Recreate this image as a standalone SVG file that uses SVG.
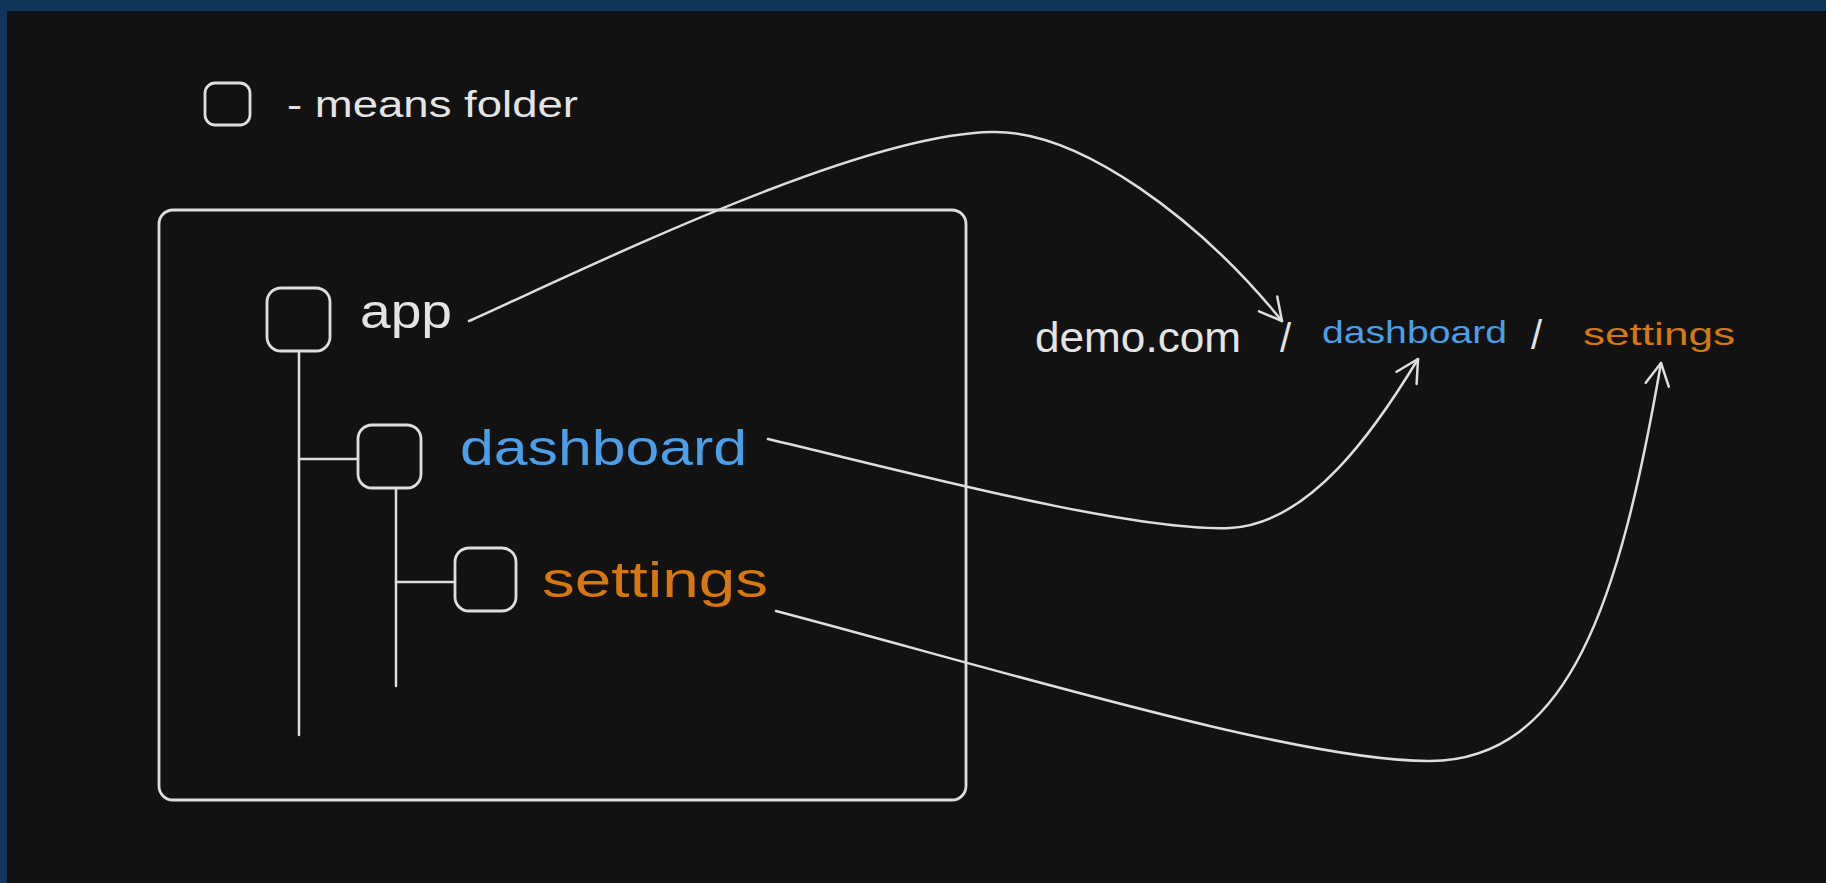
<svg xmlns="http://www.w3.org/2000/svg" width="1826" height="883" viewBox="0 0 1826 883">
<style>
.ln{fill:none;stroke:#dedede;stroke-width:2.5;stroke-linecap:round;stroke-linejoin:round}
.fold{fill:none;stroke:#dedede;stroke-width:2.8}
.t{font-family:"Liberation Sans",Arial,sans-serif;fill:#e4e4e4}
.blue{fill:#4a9fe6}
.orange{fill:#d6780e}
</style>
<defs>
<marker id="ah" markerUnits="userSpaceOnUse" markerWidth="40" markerHeight="40" refX="0" refY="0" viewBox="-30 -20 40 40" orient="auto" overflow="visible">
<path d="M -22 -11.7 L 0 0 L -22 11.7" fill="none" stroke="#dedede" stroke-width="2.5" stroke-linecap="round" stroke-linejoin="round"/>
</marker>
</defs>
<rect x="0" y="0" width="1826" height="883" fill="#11365a"/>
<rect x="7" y="11" width="1819" height="872" fill="#121212"/>

<g id="legend">
<rect class="fold" x="205" y="83" width="45" height="42" rx="10"/>
<text class="t" x="287" y="117" font-size="36" textLength="291" lengthAdjust="spacingAndGlyphs">- means folder</text>
</g>

<g id="container">
<rect class="fold" x="159" y="210" width="807" height="590" rx="14"/>
</g>

<g id="tree-lines">
<line class="ln" x1="299" y1="352" x2="299" y2="735"/>
<line class="ln" x1="299" y1="459" x2="358" y2="459"/>
<line class="ln" x1="396" y1="489" x2="396" y2="686"/>
<line class="ln" x1="396" y1="582" x2="455" y2="582"/>
</g>

<g id="folder-app">
<rect class="fold" x="267" y="288" width="63" height="63" rx="14"/>
<text class="t" x="360" y="328" font-size="48" textLength="92" lengthAdjust="spacingAndGlyphs">app</text>
</g>

<g id="folder-dashboard">
<rect class="fold" x="358" y="425" width="63" height="63" rx="14"/>
<text class="t blue" x="460" y="465" font-size="50" textLength="287" lengthAdjust="spacingAndGlyphs">dashboard</text>
</g>

<g id="folder-settings">
<rect class="fold" x="455" y="548" width="61" height="63" rx="14"/>
<text class="t orange" x="542" y="597" font-size="50" textLength="226" lengthAdjust="spacingAndGlyphs">settings</text>
</g>

<g id="url">
<text class="t" x="1035" y="352" font-size="42" textLength="206" lengthAdjust="spacingAndGlyphs">demo.com</text>
<text class="t" x="1280" y="352" font-size="40" font-weight="normal">/</text>
<text class="t blue" x="1322" y="343" font-size="32" textLength="185" lengthAdjust="spacingAndGlyphs">dashboard</text>
<text class="t" x="1531" y="349" font-size="40" font-weight="normal">/</text>
<text class="t orange" x="1583" y="345" font-size="32" textLength="152" lengthAdjust="spacingAndGlyphs">settings</text>
</g>

<g id="connectors">
<path class="ln" d="M 469 321 C 600 262 860 134 992 132 C 1080 130 1200 220 1282 321" marker-end="url(#ah)"/>
<path class="ln" d="M 768 439 C 900 470 1130 532 1230 528 C 1310 524 1375 430 1418 359" marker-end="url(#ah)"/>
<path class="ln" d="M 776 611 C 1000 670 1300 762 1430 761 C 1570 760 1620 600 1661 363" marker-end="url(#ah)"/>
</g>
</svg>
